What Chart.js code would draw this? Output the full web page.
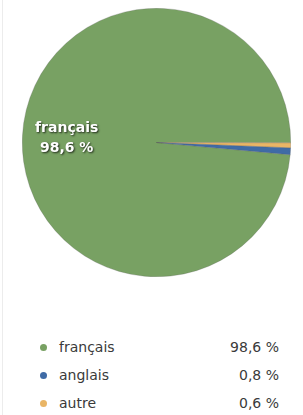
<!DOCTYPE html>
<html>
<head>
<meta charset="utf-8">
<script src="https://cdn.jsdelivr.net/npm/chart.js@4.4.1/dist/chart.umd.min.js"></script>
<style>
  body { margin: 0; background: #fff; font-family: "DejaVu Sans", Arial, sans-serif; }
  #wrap { position: relative; height: 415px; border-left: 1px solid #ececec; box-sizing: border-box; margin-left: 2px; width: 301px; }
  #pie { position: absolute; left: 19px; top: 8px; width: 269px; height: 269px; }
  #legend { position: absolute; left: 34px; top: 333px; width: 242px; }
  .row { display: flex; align-items: center; height: 28px; font-size: 14px; color: #3a3a3a; }
  .dot { width: 7px; height: 7px; border-radius: 50%; margin-right: 12px; margin-left: 3px; }
  .name { flex: 1; }
  .val { text-align: right; }
</style>
</head>
<body>
<div id="wrap">
  <div id="pie"><canvas id="myChart"></canvas></div>
  <div id="legend"></div>
</div>
<script>
// Languages and their share (percent), legend order
const languages = ["français", "anglais", "autre"];
const shares = [98.6, 0.8, 0.6];
const shareLabels = ["98,6 %", "0,8 %", "0,6 %"];
const colors = ["#78a163", "#3f6ba6", "#e9b566"];

// order the slices are drawn in, clockwise
const drawOrder = [0, 2, 1];

// Build the legend under the pie
const legend = document.getElementById('legend');
languages.forEach((name, i) => {
    const row = document.createElement('div');
    row.className = 'row';
    row.innerHTML = '<span class="dot" style="background:' + colors[i] + '"></span>' +
        '<span class="name">' + name + '</span><span class="val">' + shareLabels[i] + '</span>';
    legend.appendChild(row);
});

// Label inside the big slice
const sliceLabel = {
    id: 'sliceLabel',
    afterDatasetsDraw(chart) {
        const ctx = chart.ctx;
        const meta = chart.getDatasetMeta(0);
        meta.data.forEach((arc, j) => {
            const i = drawOrder[j];
            if (shares[i] < 10) return;
            const p = arc.getProps(['x', 'y', 'startAngle', 'endAngle', 'outerRadius'], true);
            const mid = (p.startAngle + p.endAngle) / 2;
            const r = p.outerRadius * 0.67;
            const x = p.x + Math.cos(mid) * r;
            const y = p.y + Math.sin(mid) * r;
            ctx.save();
            ctx.font = 'bold 14px "DejaVu Sans", Arial, sans-serif';
            ctx.textAlign = 'center';
            ctx.textBaseline = 'middle';
            ctx.fillStyle = '#fff';
            ctx.shadowColor = 'rgba(0,0,0,0.75)';
            ctx.shadowBlur = 2;
            ctx.shadowOffsetX = 1;
            ctx.shadowOffsetY = 1;
            ctx.fillText(languages[i], x, y - 10);
            ctx.fillText(shareLabels[i], x, y + 10);
            ctx.restore();
        });
    }
};

const chartX = document.getElementById('myChart').getContext('2d');
const chart = new Chart(chartX, {
    type: 'pie',
    data: {
        labels: drawOrder.map(i => languages[i]),
        datasets: [{
            data: drawOrder.map(i => shares[i]),
            backgroundColor: drawOrder.map(i => colors[i]),
            borderColor: 'rgba(90,90,90,0.5)',
            borderWidth: 0.5
        }]
    },
    options: {
        responsive: true,
        maintainAspectRatio: false,
        animation: false,
        rotation: 95.2,
        layout: { padding: 0 },
        plugins: {
            legend: { display: false },
            tooltip: { enabled: false }
        }
    },
    plugins: [sliceLabel]
});
</script>
</body>
</html>
